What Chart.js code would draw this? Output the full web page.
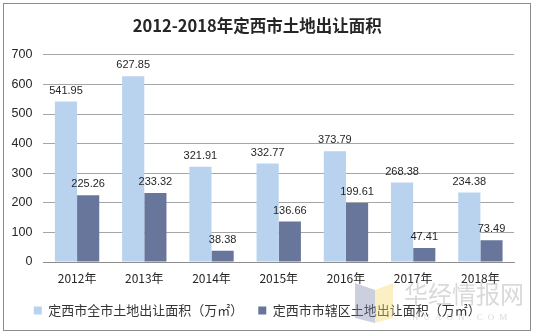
<!DOCTYPE html>
<html>
<head>
<meta charset="utf-8">
<script src="https://cdn.jsdelivr.net/npm/chart.js@4/dist/chart.umd.min.js"></script>
<style>
html,body{margin:0;padding:0;background:#fff;}
#wrap{width:534px;height:335px;position:relative;}
</style>
</head>
<body>
<div id="wrap"><canvas id="c" width="534" height="335"></canvas></div>
<script>
const categories = ["2012年","2013年","2014年","2015年","2016年","2017年","2018年"];
const cityTotal = [541.95, 627.85, 321.91, 332.77, 373.79, 268.38, 234.38];
const urbanDistrict = [225.26, 233.32, 38.38, 136.66, 199.61, 47.41, 73.49];
const seriesNames = ["定西市全市土地出让面积（万㎡）", "定西市市辖区土地出让面积（万㎡）"];
const titleText = "2012-2018年定西市土地出让面积";
const watermarkCN = "华经情报网";
const watermarkEN = "HUAON.COM";

const FONT = '"Liberation Sans", "Noto Sans CJK SC", sans-serif';
const CJK = '"Noto Sans CJK SC", "Liberation Sans", sans-serif';

const framePlugin = {
  id: 'frame',
  beforeDraw(chart) {
    const ctx = chart.ctx;
    ctx.save();
    ctx.fillStyle = '#fff';
    ctx.fillRect(0, 0, chart.width, chart.height);
    ctx.strokeStyle = '#8c8c8c';
    ctx.lineWidth = 1;
    ctx.strokeRect(3.5, 3.5, 527, 327);
    ctx.restore();
  }
};

const watermarkPlugin = {
  id: 'watermark',
  afterDraw(chart) {
    const ctx = chart.ctx;
    ctx.save();
    ctx.globalAlpha = 0.4;
    ctx.fillStyle = '#7d86ad';
    ctx.beginPath();
    ctx.moveTo(355, 283); ctx.lineTo(375, 290); ctx.lineTo(375, 323); ctx.lineTo(355, 318); ctx.closePath();
    ctx.fill();
    ctx.fillStyle = '#f5d96a';
    ctx.beginPath();
    ctx.moveTo(375, 290); ctx.lineTo(393, 283); ctx.lineTo(393, 318); ctx.lineTo(375, 323); ctx.closePath();
    ctx.fill();
    ctx.globalAlpha = 0.4;
    ctx.fillStyle = '#a0a0a0';
    ctx.font = '24px ' + CJK;
    ctx.textBaseline = 'middle';
    ctx.textAlign = 'left';
    ctx.fillText(watermarkCN, 404, 294);
    ctx.font = '9px "Liberation Serif", serif';
    ctx.letterSpacing = '5px';
    ctx.fillText(watermarkEN, 412, 318);
    ctx.restore();
  }
};

const labelPlugin = {
  id: 'valueLabels',
  afterDatasetsDraw(chart) {
    const ctx = chart.ctx;
    ctx.save();
    ctx.font = '11px ' + FONT;
    ctx.fillStyle = '#262626';
    ctx.textAlign = 'center';
    ctx.textBaseline = 'alphabetic';
    chart.data.datasets.forEach((ds, di) => {
      const meta = chart.getDatasetMeta(di);
      meta.data.forEach((bar, i) => {
        ctx.fillText(ds.data[i].toFixed(2), bar.x, bar.y - 8);
      });
    });
    ctx.restore();
  }
};

new Chart(document.getElementById('c'), {
  type: 'bar',
  data: {
    labels: categories,
    datasets: [
      { label: seriesNames[0], data: cityTotal, backgroundColor: '#B9D3EF' },
      { label: seriesNames[1], data: urbanDistrict, backgroundColor: '#68769C' }
    ]
  },
  options: {
    responsive: false,
    animation: false,
    devicePixelRatio: 1,
    layout: { padding: { left: 0.6, right: 20, top: 4, bottom: 8 } },
    datasets: { bar: { categoryPercentage: 0.66, barPercentage: 1.0 } },
    plugins: {
      title: {
        display: true,
        text: titleText,
        color: '#262626',
        font: { family: CJK, size: 16.5, weight: 'bold' },
        padding: { top: 12, bottom: 19 }
      },
      legend: {
        position: 'bottom',
        labels: {
          boxWidth: 8, boxHeight: 8,
          color: '#333',
          font: { family: CJK, size: 13 },
          padding: 15
        }
      },
      tooltip: { enabled: false }
    },
    scales: {
      x: {
        grid: { display: false },
        border: { color: '#8c8c8c' },
        ticks: { color: '#262626', font: { family: CJK, size: 12 }, padding: 1 },
        afterFit(scale) { scale.height += 2.6; }
      },
      y: {
        min: 0, max: 700,
        ticks: { stepSize: 100, color: '#262626', font: { family: FONT, size: 12.5 }, padding: 11 },
        grid: { color: '#a6a6a6', drawTicks: false },
        border: { display: false }
      }
    }
  },
  plugins: [framePlugin, labelPlugin, watermarkPlugin]
});
</script>
</body>
</html>
